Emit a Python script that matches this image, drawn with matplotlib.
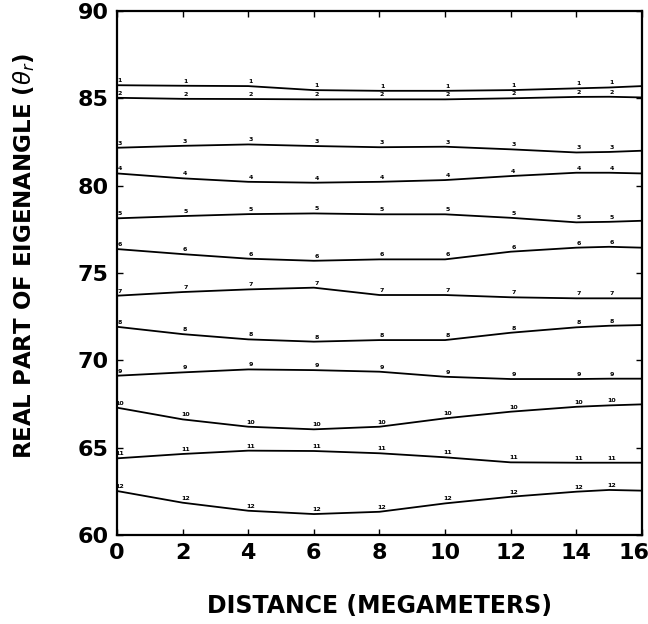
import numpy as np
import matplotlib
matplotlib.use("Agg")
import matplotlib.pyplot as plt
from matplotlib.transforms import ScaledTranslation

dist = [0, 2, 4, 6, 8, 10, 12, 14, 15, 16]

# real part of eigenangle for each mode, 1 (top) .. 12 (bottom)
mode1 = [85.75, 85.72, 85.70, 85.47, 85.43, 85.43, 85.47, 85.57, 85.62, 85.70]
mode2 = [85.03, 84.97, 84.96, 84.94, 84.94, 84.94, 85.00, 85.08, 85.09, 85.05]
mode3 = [82.17, 82.28, 82.36, 82.27, 82.20, 82.23, 82.08, 81.90, 81.93, 82.00]
mode4 = [80.70, 80.42, 80.22, 80.17, 80.22, 80.32, 80.55, 80.74, 80.74, 80.70]
mode5 = [78.13, 78.26, 78.37, 78.41, 78.36, 78.36, 78.16, 77.90, 77.93, 77.99]
mode6 = [76.37, 76.08, 75.82, 75.70, 75.78, 75.78, 76.22, 76.45, 76.50, 76.45]
mode7 = [73.70, 73.91, 74.06, 74.16, 73.74, 73.74, 73.61, 73.55, 73.55, 73.55]
mode8 = [71.92, 71.50, 71.20, 71.07, 71.16, 71.16, 71.58, 71.89, 71.98, 72.02]
mode9 = [69.12, 69.31, 69.48, 69.44, 69.35, 69.06, 68.93, 68.93, 68.95, 68.95]
mode10 = [67.29, 66.62, 66.20, 66.05, 66.20, 66.68, 67.06, 67.34, 67.42, 67.48]
mode11 = [64.39, 64.64, 64.83, 64.81, 64.68, 64.45, 64.16, 64.14, 64.14, 64.14]
mode12 = [62.52, 61.85, 61.39, 61.20, 61.33, 61.81, 62.19, 62.48, 62.58, 62.54]

modes = [mode1, mode2, mode3, mode4, mode5, mode6,
         mode7, mode8, mode9, mode10, mode11, mode12]
mode_names = [str(i + 1) for i in range(len(modes))]

xticks = [0, 2, 4, 6, 8, 10, 12, 14, 16]
yticks = [60, 65, 70, 75, 80, 85, 90]

plt.rcParams['font.family'] = ['DejaVu Sans']
plt.rcParams['mathtext.fontset'] = 'dejavusans'

fig = plt.figure(figsize=(6.48, 6.24), dpi=100)
ax = fig.add_axes([0.1806, 0.1426, 0.81, 0.8398])

for vals, name in zip(modes, mode_names):
    ax.plot(dist, vals, color='black', lw=1.3)
    # little mode numbers sitting on the curve at each computed distance
    for x, y in zip(dist[:-1], vals[:-1]):
        ax.text(x + 0.08, y + 0.12, name, fontsize=4.5, fontweight='bold',
                ha='center', va='bottom', color='black')

ax.set_xlim(0, 16)
ax.set_ylim(60, 90)
ax.set_xticks(xticks)
ax.set_yticks(yticks)
ax.tick_params(direction='in', length=4, width=1, top=True, right=True,
               labelsize=16, pad=6)
for lab in ax.get_xticklabels() + ax.get_yticklabels():
    lab.set_fontweight('bold')
# the last x label sits a bit inside in the original
last = ax.get_xticklabels()[-1]
last.set_transform(last.get_transform() + ScaledTranslation(-8 / 100, 0, fig.dpi_scale_trans))
for sp in ax.spines.values():
    sp.set_linewidth(1.6)

ax.set_xlabel('DISTANCE (MEGAMETERS)', fontsize=17, fontweight='bold', labelpad=22)
ax.set_ylabel(r'REAL PART OF EIGENANGLE ($\theta_r$)', fontsize=16.5,
              fontweight='bold')
ax.yaxis.set_label_coords(-0.152, 0.532)

fig.savefig('out.png', dpi=100)
